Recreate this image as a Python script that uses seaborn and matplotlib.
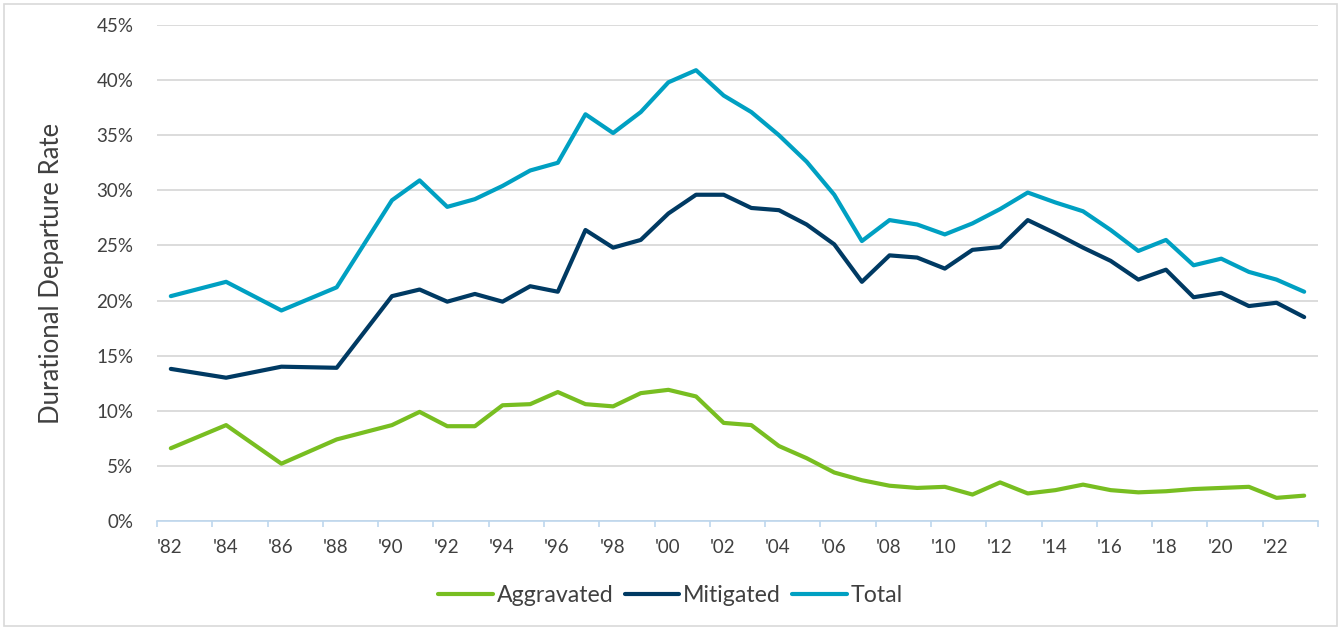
import matplotlib
matplotlib.use("Agg")
import matplotlib.pyplot as plt
from matplotlib.ticker import PercentFormatter, FixedLocator
from matplotlib.patches import Rectangle
import seaborn as sns
import pandas as pd

years = [1982, 1984, 1986, 1988, 1990, 1991, 1992, 1993, 1994, 1995,
         1996, 1997, 1998, 1999, 2000, 2001, 2002, 2003, 2004, 2005,
         2006, 2007, 2008, 2009, 2010, 2011, 2012, 2013, 2014, 2015,
         2016, 2017, 2018, 2019, 2020, 2021, 2022, 2023]

aggravated = [6.6, 8.7, 5.2, 7.4, 8.7, 9.9, 8.6, 8.6, 10.5, 10.6,
              11.7, 10.6, 10.4, 11.6, 11.9, 11.3, 8.9, 8.7, 6.8, 5.7,
              4.4, 3.7, 3.2, 3.0, 3.1, 2.4, 3.5, 2.5, 2.8, 3.3,
              2.8, 2.6, 2.7, 2.9, 3.0, 3.1, 2.1, 2.3]

mitigated = [13.8, 13.0, 14.0, 13.9, 20.4, 21.0, 19.9, 20.6, 19.9, 21.3,
             20.8, 26.4, 24.8, 25.5, 27.9, 29.6, 29.6, 28.4, 28.2, 26.9,
             25.1, 21.7, 24.1, 23.9, 22.9, 24.6, 24.85, 27.3, 26.1, 24.8,
             23.6, 21.9, 22.8, 20.3, 20.7, 19.5, 19.8, 18.5]

total = [20.4, 21.7, 19.1, 21.2, 29.1, 30.9, 28.5, 29.2, 30.4, 31.8,
         32.5, 36.9, 35.2, 37.1, 39.8, 40.9, 38.6, 37.1, 35.0, 32.6,
         29.6, 25.4, 27.3, 26.9, 26.0, 27.0, 28.3, 29.8, 28.9, 28.1,
         26.4, 24.5, 25.5, 23.2, 23.8, 22.6, 21.9, 20.8]

series_names = ["Aggravated", "Mitigated", "Total"]
colors = ["#78BE21", "#003A63", "#00A0C2"]

tick_labels = ["'82", "'84", "'86", "'88", "'90", "'92", "'94", "'96", "'98", "'00",
               "'02", "'04", "'06", "'08", "'10", "'12", "'14", "'16", "'18", "'20", "'22"]

df = pd.concat([
    pd.DataFrame({"Year": years, "Rate": vals, "Series": name})
    for name, vals in zip(series_names, [aggravated, mitigated, total])
], ignore_index=True)

sns.set_theme(style="white")
plt.rcParams["font.family"] = ["Lato", "DejaVu Sans"]
text_color = "#404040"

fig = plt.figure(figsize=(13.41, 6.30), dpi=100)
ax = fig.add_axes([157 / 1341, 1 - 521 / 630, (1318 - 157) / 1341, (521 - 25) / 630])

sns.lineplot(data=df, x="Year", y="Rate", hue="Series", hue_order=series_names,
             palette=colors, linewidth=3.0, ax=ax, legend=False,
             solid_capstyle="round", solid_joinstyle="round")

ax.set_xlim(1981.5, 2023.5)
ax.set_ylim(0, 45)
ax.set_yticks([0, 5, 10, 15, 20, 25, 30, 35, 40, 45])
ax.yaxis.set_major_formatter(PercentFormatter(xmax=100, decimals=0))
ax.grid(axis="y", color="#D9D9D9", linewidth=1.3)
ax.set_axisbelow(True)

tick_pos = [1981.5 + 2 * i for i in range(22)]
ax.xaxis.set_major_locator(FixedLocator(tick_pos))
ax.set_xticklabels(tick_labels + [""])
for lbl in ax.get_xticklabels():
    lbl.set_horizontalalignment("left")

for s in ["top", "right", "left"]:
    ax.spines[s].set_visible(False)
ax.spines["bottom"].set_color("#BDD7EE")
ax.spines["bottom"].set_linewidth(1.2)

ax.tick_params(axis="x", direction="out", length=4, width=1.2, color="#BDD7EE",
               pad=9, labelsize=13.5, labelcolor=text_color, bottom=True)
ax.tick_params(axis="y", length=0, pad=17, labelsize=13.5, labelcolor=text_color)

ax.set_xlabel("")
ax.set_ylabel("Durational Departure Rate", fontsize=18.5, color=text_color, labelpad=23)

handles = [plt.Line2D([0], [0], color=c, lw=3.0, solid_capstyle="round") for c in colors]
fig.legend(handles, series_names, loc="center", bbox_to_anchor=(0.5, 1 - 596 / 630),
           ncol=3, frameon=False, fontsize=16.7, handlelength=2.35, handletextpad=0.15,
           columnspacing=0.5, labelcolor=text_color)

fig.patches.append(Rectangle((4 / 1341, 4 / 630), 1 - 8 / 1341, 1 - 8 / 630,
                             transform=fig.transFigure, fill=False,
                             edgecolor="#D9D9D9", linewidth=1.2))

fig.savefig("out.png", dpi=100)
